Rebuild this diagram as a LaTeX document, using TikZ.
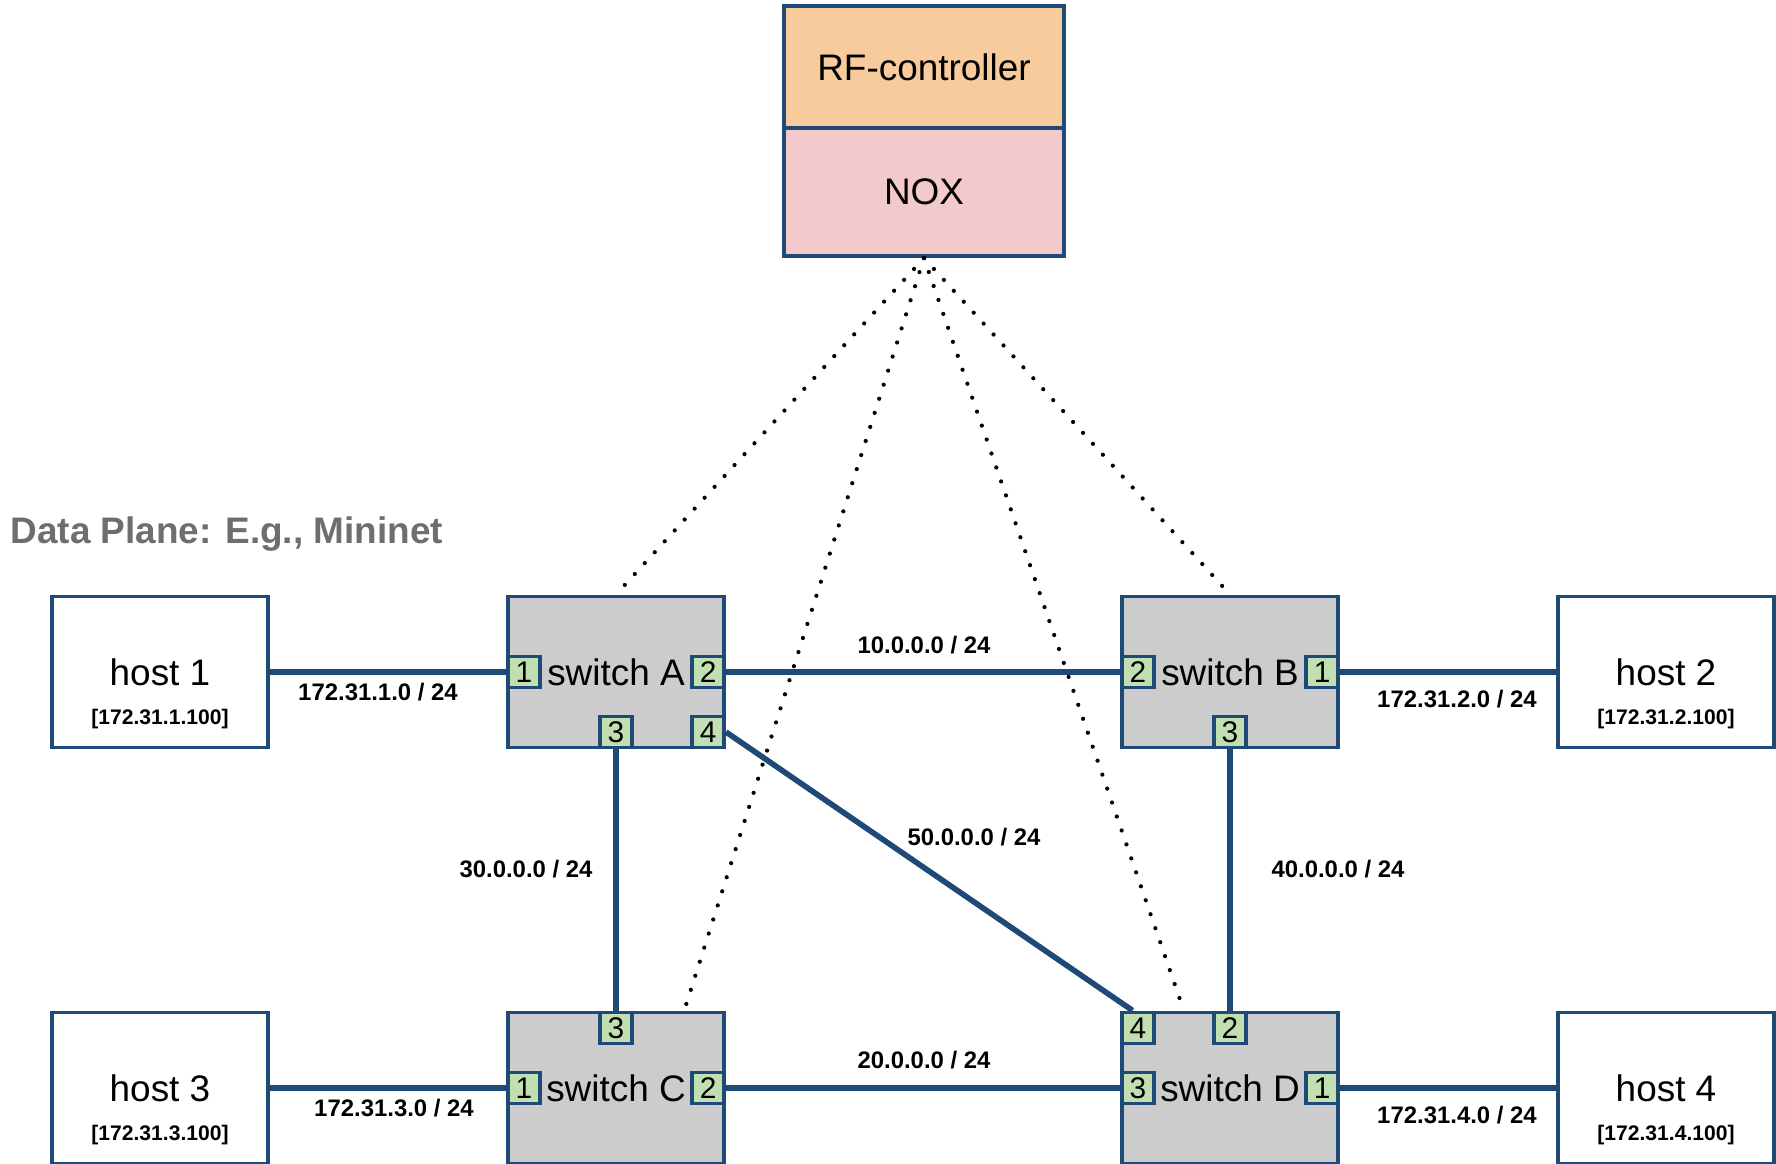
\documentclass[tikz,border=0pt]{standalone}
\usepackage{fontspec}
\setmainfont{Liberation Sans}
\usepackage{tikz}
\usetikzlibrary{positioning, calc}
\definecolor{rfLine}{HTML}{1F4A78}
\definecolor{rfCtrl}{HTML}{F8CB9C}
\definecolor{rfNox}{HTML}{F3CACB}
\definecolor{rfSwitch}{HTML}{CCCCCC}
\definecolor{rfPort}{HTML}{C2DFB1}
\definecolor{rfCaption}{HTML}{6E6E6E}

\begin{document}
\begin{tikzpicture}[
  x=0.01cm, y=-0.01cm,
  every node/.style={font=\fontsize{10.5}{12}\selectfont},
  host/.style={draw=rfLine, line width=1.1pt, fill=white, minimum width=2.16cm, minimum height=1.51cm, inner sep=0pt},
  switchbox/.style={host, fill=rfSwitch},
  port/.style={draw=rfLine, line width=1.1pt, fill=rfPort, minimum width=0.32cm, minimum height=0.31cm, inner sep=0pt, font=\fontsize{8.5}{9}\selectfont},
  ctrlbox/.style={draw=rfLine, line width=1.1pt, minimum width=2.8cm, inner sep=0pt},
  link/.style={draw=rfLine, line width=1.6pt},
  ctrllink/.style={line width=1.2pt, dash pattern=on 0pt off 4.2pt, line cap=round},
  net/.style={font=\bfseries\fontsize{6.8}{8}\selectfont},
  ip/.style={font=\bfseries\fontsize{6}{7}\selectfont}
]
  \useasboundingbox (0,0) rectangle (1776,1164);

  % controller
  \node[ctrlbox, fill=rfCtrl, minimum height=1.22cm] (rf) at (924,67) {RF-controller};
  \node[ctrlbox, fill=rfNox, minimum height=1.28cm, below=-1.1pt of rf] (nox) {NOX};

  \node[anchor=west, inner sep=0pt, text=rfCaption, font=\bfseries\fontsize{10.5}{12}\selectfont] (dp) at (10,534) {Data Plane: E.g., Mininet};

  % hosts
  \node[host] (h1) at (160,672) {host 1};
  \node[host] (h2) at (1666,672) {host 2};
  \node[host] (h3) at (160,1088) {host 3};
  \node[host] (h4) at (1666,1088) {host 4};
  \node[ip] (h1ip) at (160,719) {[172.31.1.100]};
  \node[ip] (h2ip) at (1666,719) {[172.31.2.100]};
  \node[ip] (h3ip) at (160,1135) {[172.31.3.100]};
  \node[ip] (h4ip) at (1666,1135) {[172.31.4.100]};

  % switches
  \node[switchbox] (sA) at (616,672) {switch A};
  \node[switchbox] (sB) at (1230,672) {switch B};
  \node[switchbox] (sC) at (616,1088) {switch C};
  \node[switchbox] (sD) at (1230,1088) {switch D};

  % ports
  \node[port, anchor=west] (A1) at (sA.west) {1};
  \node[port, anchor=east] (A2) at (sA.east) {2};
  \node[port, anchor=south] (A3) at (sA.south) {3};
  \node[port, anchor=south east] (A4) at (sA.south east) {4};
  \node[port, anchor=west] (B2) at (sB.west) {2};
  \node[port, anchor=east] (B1) at (sB.east) {1};
  \node[port, anchor=south] (B3) at (sB.south) {3};
  \node[port, anchor=west] (C1) at (sC.west) {1};
  \node[port, anchor=east] (C2) at (sC.east) {2};
  \node[port, anchor=north] (C3) at (sC.north) {3};
  \node[port, anchor=west] (D3) at (sD.west) {3};
  \node[port, anchor=east] (D1) at (sD.east) {1};
  \node[port, anchor=north] (D2) at (sD.north) {2};
  \node[port, anchor=north west] (D4) at (sD.north west) {4};

  % links
  \draw[link] (h1.east) -- (A1.west);
  \draw[link] (A2.east) -- (B2.west);
  \draw[link] (B1.east) -- (h2.west);
  \draw[link] (A3.south) -- (C3.north);
  \draw[link] (B3.south) -- (D2.north);
  \draw[link] (A4.east) -- ($(D4.north west)!0.35!(D4.north east)$);
  \draw[link] (h3.east) -- (C1.west);
  \draw[link] (C2.east) -- (D3.west);
  \draw[link] (D1.east) -- (h4.west);

  \node[net] (n1) at (378,692) {172.31.1.0 / 24};
  \node[net] (n10) at (924,645) {10.0.0.0 / 24};
  \node[net] (n2) at (1457,699) {172.31.2.0 / 24};
  \node[net] (n30) at (526,869) {30.0.0.0 / 24};
  \node[net] (n50) at (974,837) {50.0.0.0 / 24};
  \node[net] (n40) at (1338,869) {40.0.0.0 / 24};
  \node[net] (n20) at (924,1060) {20.0.0.0 / 24};
  \node[net] (n3) at (394,1108) {172.31.3.0 / 24};
  \node[net] (n4) at (1457,1115) {172.31.4.0 / 24};

  % control channels
  \draw[ctrllink] (nox.south) -- (sA.north);
  \draw[ctrllink] (nox.south) -- ($(sC.north west)!0.81!(sC.north east)$);
  \draw[ctrllink] (nox.south) -- ($(sD.north west)!0.29!(sD.north east)$);
  \draw[ctrllink] (nox.south) -- (sB.north);
\end{tikzpicture}
\end{document}
